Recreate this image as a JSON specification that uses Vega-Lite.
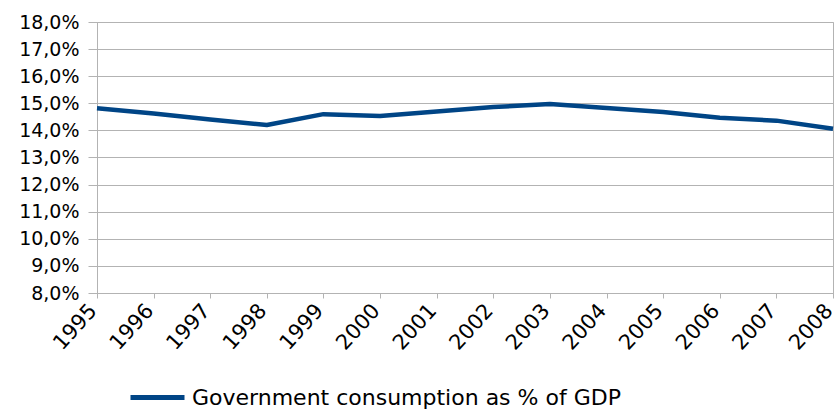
{
  "$schema": "https://vega.github.io/schema/vega-lite/v6.json",
  "width": 736,
  "height": 271,
  "autosize": {"type": "none"},
  "padding": {"left": 97, "top": 22, "right": 5, "bottom": 121},
  "background": "white",
  "data": {
    "values": [
      {"year": 1995, "value": 0.1482, "series": "Government consumption as % of GDP"},
      {"year": 1996, "value": 0.1462, "series": "Government consumption as % of GDP"},
      {"year": 1997, "value": 0.1440, "series": "Government consumption as % of GDP"},
      {"year": 1998, "value": 0.1420, "series": "Government consumption as % of GDP"},
      {"year": 1999, "value": 0.1460, "series": "Government consumption as % of GDP"},
      {"year": 2000, "value": 0.1453, "series": "Government consumption as % of GDP"},
      {"year": 2001, "value": 0.1470, "series": "Government consumption as % of GDP"},
      {"year": 2002, "value": 0.1486, "series": "Government consumption as % of GDP"},
      {"year": 2003, "value": 0.1497, "series": "Government consumption as % of GDP"},
      {"year": 2004, "value": 0.1483, "series": "Government consumption as % of GDP"},
      {"year": 2005, "value": 0.1468, "series": "Government consumption as % of GDP"},
      {"year": 2006, "value": 0.1447, "series": "Government consumption as % of GDP"},
      {"year": 2007, "value": 0.1436, "series": "Government consumption as % of GDP"},
      {"year": 2008, "value": 0.1406, "series": "Government consumption as % of GDP"}
    ]
  },
  "mark": {"type": "line", "strokeWidth": 4.5, "strokeJoin": "round"},
  "encoding": {
    "x": {
      "field": "year",
      "type": "quantitative",
      "scale": {"domain": [1995, 2008], "nice": false, "zero": false},
      "axis": {
        "title": null,
        "values": [1995, 1996, 1997, 1998, 1999, 2000, 2001, 2002, 2003, 2004, 2005, 2006, 2007, 2008],
        "format": "d",
        "grid": false,
        "labelAngle": -48,
        "labelAlign": "right",
        "labelBaseline": "middle",
        "labelFont": "DejaVu Sans",
        "labelFontSize": 21,
        "labelColor": "#000000",
        "labelPadding": 9,
        "labelOffset": -4,
        "labelFlush": false,
        "labelOverlap": false,
        "tickSize": 5,
        "tickColor": "#b3b3b3",
        "domainColor": "#b3b3b3"
      }
    },
    "y": {
      "field": "value",
      "type": "quantitative",
      "scale": {"domain": [0.08, 0.18], "nice": false, "zero": false},
      "axis": {
        "title": null,
        "values": [0.08, 0.09, 0.10, 0.11, 0.12, 0.13, 0.14, 0.15, 0.16, 0.17, 0.18],
        "labelExpr": "replace(format(datum.value, '.1%'), '.', ',')",
        "labelFont": "DejaVu Sans",
        "labelFontSize": 19,
        "labelColor": "#000000",
        "labelPadding": 9,
        "labelFlush": false,
        "labelOverlap": false,
        "tickSize": 9,
        "tickColor": "#b3b3b3",
        "domainColor": "#b3b3b3",
        "gridColor": "#b3b3b3"
      }
    },
    "color": {
      "field": "series",
      "type": "nominal",
      "scale": {"range": ["#004586"]},
      "legend": {
        "title": null,
        "orient": "none",
        "legendX": 31,
        "legendY": 346,
        "symbolType": "stroke",
        "symbolSize": 2916,
        "symbolStrokeWidth": 5,
        "labelFont": "DejaVu Sans",
        "labelFontSize": 22,
        "labelColor": "#000000",
        "labelOffset": 5,
        "labelLimit": 0
      }
    }
  },
  "config": {
    "view": {"stroke": "#b3b3b3"}
  }
}
